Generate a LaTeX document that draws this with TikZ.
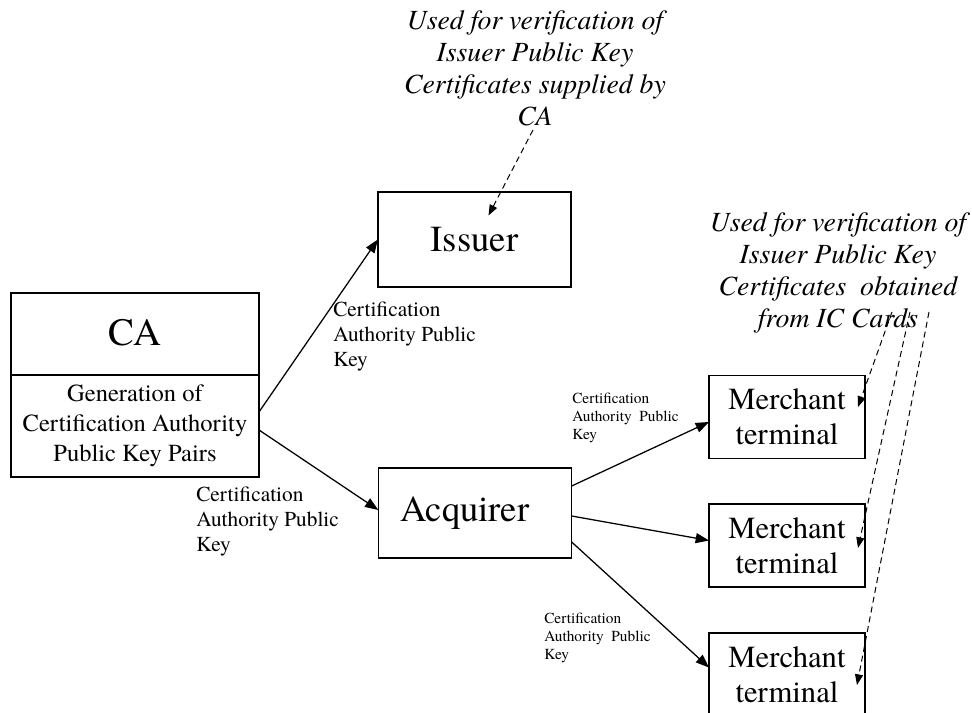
\documentclass[tikz,border=0pt]{standalone}
\usepackage{fontspec}
\setmainfont{texgyretermes}[
  Extension=.otf,
  UprightFont=*-regular,
  BoldFont=*-bold,
  ItalicFont=*-italic,
  BoldItalicFont=*-bolditalic]
\usetikzlibrary{arrows.meta,positioning,calc}
\tikzset{
  box/.style={
    draw=black,line width=1.2pt,inner sep=0pt,outer sep=0pt,align=center
  },
  bigbox/.style={box,minimum width=145pt,font=\fontsize{27.5}{32}\selectfont},
  termbox/.style={
    box,minimum width=117pt,minimum height=62pt,
    font=\fontsize{23}{26.25}\selectfont
  },
  keylabel/.style={anchor=west,align=left,inner sep=0pt,font=\fontsize{16}{18.75}\selectfont},
  smalllabel/.style={anchor=west,align=left,inner sep=0pt,font=\fontsize{11.5}{13.5}\selectfont},
  usenote/.style={align=center,inner sep=0pt,font=\fontsize{20.8}{24}\selectfont\itshape},
  arrow/.style={-{Triangle[length=10pt,width=7.5pt]},line width=.95pt},
  dasharrow/.style={-{Triangle[length=8pt,width=6pt]},line width=.75pt,dash pattern=on 4.5pt off 3pt}
}

\begin{document}
\begin{tikzpicture}[x=0.75pt,y=-0.75pt]
\useasboundingbox (0,0) rectangle (972,713);
% certification authority
\node[box,minimum width=186pt,minimum height=61.5pt,font=\fontsize{29}{34}\selectfont] (ca) at (135,334) {\raisebox{3pt}{CA}};
\node[box,minimum width=186pt,minimum height=76.5pt,font=\fontsize{18.4}{22.5}\selectfont,below=0pt of ca] (gen)
{Generation of\\Certification Authority\\Public Key Pairs};
% issuer and acquirer
\node[bigbox,minimum height=71pt] (issuer) at (474.5,239.5) {Issuer};
\node[bigbox,minimum height=67.5pt] (acq) at (475,513) {Acquirer\hspace*{15pt}};
% merchant terminals
\node[termbox] (m1) at (787,417) {Merchant\\terminal};
\node[termbox] (m2) at (787,545.5) {Merchant\\terminal};
\node[termbox] (m3) at (787,674.5) {Merchant\\terminal};
% key distribution
\draw[arrow] ($(gen.east)+(0,-14)$) -- (issuer.west);
\draw[arrow] ($(gen.east)+(0,4)$) -- ($(acq.west)+(0,-3)$);
\draw[arrow] ($(acq.east)+(0,-27)$) -- ($(m1.west)+(0,5)$);
\draw[arrow] ($(acq.east)+(0,3)$) -- ($(m2.west)+(0,-5)$);
\draw[arrow] ($(acq.east)+(0,29)$) -- ($(m3.west)+(0,-7)$);
\node[keylabel] (k1) at (333,337) {Certification\\Authority Public\\Key};
\node[keylabel] (k2) at (196,522) {Certification\\Authority Public\\Key};
\node[smalllabel] (k3) at (572,418) {Certification\\Authority\ \ Public\\Key};
\node[smalllabel] (k4) at (544,638) {Certification\\Authority\ \ Public\\Key};
% usage notes
\node[usenote] (issnote) at (535,68)
{Used for verification of\\Issuer Public Key\\Certificates supplied by\\CA};
\node[usenote] (cardnote) at (838,273)
{Used for verification of\\Issuer Public Key\\Certificates\ \ obtained\\from IC Cards};
\draw[dasharrow] ($(issnote.south)+(-2,4)$) -- ($(issuer.center)+(14,-24)$);
\draw[dasharrow] ($(cardnote.center)+(54,39)$) -- ($(m1.center)+(71,-10)$);
\draw[dasharrow] ($(cardnote.center)+(72,39)$) -- ($(m2.center)+(71,2.5)$);
\draw[dasharrow] ($(cardnote.center)+(91,39)$) -- ($(m3.center)+(70,10.5)$);
\end{tikzpicture}
\end{document}
